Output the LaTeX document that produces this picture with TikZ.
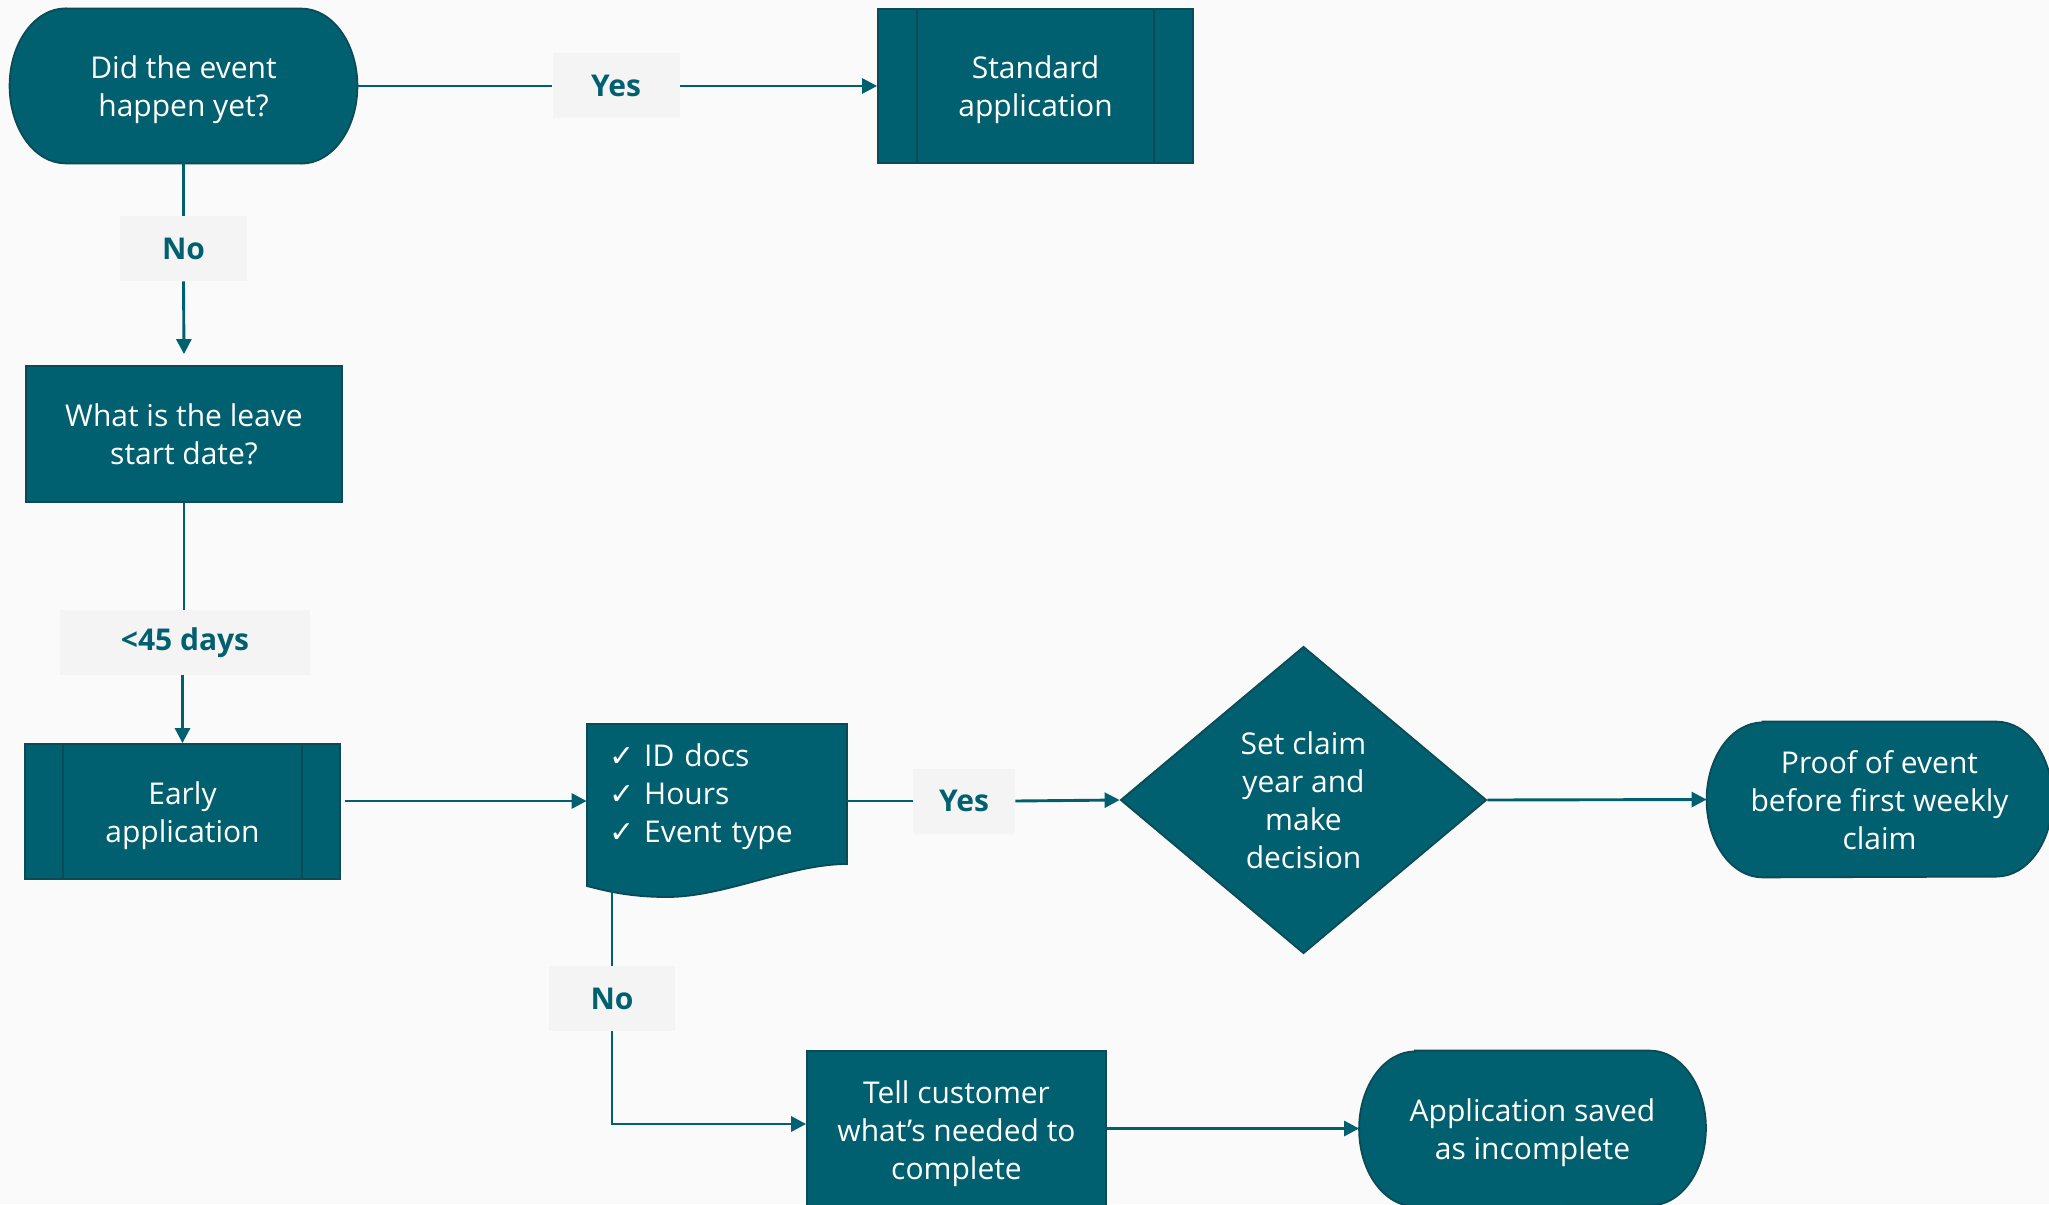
\documentclass[tikz,border=0pt]{standalone}
\usepackage{fontspec}
\setmainfont{Open Sans}
\newfontfamily\symfont{DejaVu Sans}
\usetikzlibrary{arrows.meta,shapes.geometric,backgrounds}
\definecolor{tealf}{HTML}{01606F}
\definecolor{teald}{HTML}{0A4B57}
\definecolor{bgc}{HTML}{FAFAFA}
\definecolor{lblbg}{HTML}{F4F4F4}
\newcommand\tstrut{\rule{0pt}{15.4pt}}
\begin{document}
\begin{tikzpicture}[x=0.5pt,y=-0.5pt,
  shapetext/.style={text=white, font=\fontsize{15}{19}\selectfont, align=center, inner sep=0pt,
    execute at end node={\vphantom{p}}},
  procbox/.style={shapetext, rectangle, fill=tealf, draw=teald, line width=0.9pt},
  termnode/.style={shapetext, rectangle},
  termshape/.style={fill=tealf, draw=teald, line width=0.9pt},
  lbl/.style={fill=lblbg, text=tealf, font=\bfseries\fontsize{15}{19}\selectfont, inner sep=0pt, minimum height=32.5pt},
  conn/.style={draw=tealf, line width=1.45pt},
  arr/.style={conn, -{Triangle[length=7.5pt,width=7.5pt]}},
  sideline/.style={draw=teald, line width=1.2pt}
]
\useasboundingbox (0,0) rectangle (2049,1204);
% ---------- nodes ----------
\node[termnode, minimum width=173.5pt, minimum height=77pt] (t1) at (183.5,86) {\tstrut Did the event\\happen yet?};
\node[procbox, minimum width=157.5pt, minimum height=77pt] (std) at (1035.5,86) {\tstrut Standard\\application};
\node[procbox, minimum width=158pt, minimum height=68pt] (lsd) at (184,434) {\tstrut What is the leave\\start date?};
\node[procbox, minimum width=157.5pt, minimum height=67.5pt] (early) at (182.5,811.5) {\tstrut Early\\application};
\node[shapetext, rectangle, align=left, text width=108pt, inner xsep=11pt, minimum height=66pt] (doc) at (717,797)
  {{\symfont ✓}\ ID docs\\{\symfont ✓}\ Hours\\{\symfont ✓}\ Event type};
\node[shapetext, diamond, fill=tealf, draw=teald, line width=0.9pt, minimum width=183pt, minimum height=153.5pt] (dia) at (1303.5,800)
  {\tstrut Set claim\\year and\\make\\decision};
\node[termnode, minimum width=172.5pt, minimum height=77.5pt] (proof) at (1879.5,799.5) {\tstrut Proof of event\\before first weekly\\claim};
\node[procbox, minimum width=149.5pt, minimum height=79pt] (tell) at (956.5,1130) {\tstrut Tell customer\\what’s needed to\\complete};
\node[termnode, minimum width=173pt, minimum height=77.5pt] (saved) at (1532.5,1128.5) {\tstrut Application saved\\as incomplete};
% labels
\node[lbl, minimum width=63.5pt] (yes1) at (616,86) {Yes};
\node[lbl, minimum width=63.5pt] (no1) at (183.5,248.5) {No};
\node[lbl, minimum width=125pt] (d45) at (185,642.5) {<45 days};
\node[lbl, minimum width=51pt] (yes2) at (964,801) {Yes};
\node[lbl, minimum width=63pt] (no2) at (612,998.5) {No};
\coordinate (docbot) at (612,891);
\coordinate (nobend) at (612,1124);
% ---------- shapes on background ----------
\begin{scope}[on background layer]
  \fill[bgc] (0,0) rectangle (2049,1204);
  \foreach \n in {t1,proof,saved}{
    \path[termshape] ([xshift=28pt]\n.north west) -- ([xshift=-28pt]\n.north east)
      arc[start angle=90, end angle=-90, x radius=28pt, y radius=38.75pt]
      -- ([xshift=28pt]\n.south west)
      arc[start angle=270, end angle=90, x radius=28pt, y radius=38.75pt] -- cycle;
  }
  \path[termshape] (587,724) -- (847,724) -- (847,864)
    .. controls (790,864) and (725,897) .. (667,897)
    .. controls (630,897) and (606,891) .. (587,886) -- cycle;
\end{scope}
% predefined-process side lines
\draw[sideline] ([xshift=20pt]std.north west) -- ([xshift=20pt]std.south west);
\draw[sideline] ([xshift=-20pt]std.north east) -- ([xshift=-20pt]std.south east);
\draw[sideline] ([xshift=19.5pt]early.north west) -- ([xshift=19.5pt]early.south west);
\draw[sideline] ([xshift=-19.5pt]early.north east) -- ([xshift=-19.5pt]early.south east);
% ---------- connectors ----------
\draw[conn] (t1.east) -- (yes1.west);
\draw[arr] (yes1.east) -- (std.west);
\draw[conn] (t1.south) -- (no1.north);
\draw[arr] (no1.south) -- ([yshift=5.5pt]lsd.north);
\draw[conn] (lsd.south) -- (d45.north -| lsd.south);
\draw[arr] (d45.south -| early.north) -- (early.north);
\draw[arr] ([xshift=2pt]early.east |- yes2.west) -- (doc.west |- yes2.west);
\draw[conn] (doc.east |- yes2.west) -- (yes2.west);
\draw[arr] (yes2.east) -- (dia.west);
\draw[arr] (dia.east) -- (proof.west);
\draw[conn] (docbot) -- (no2.north);
\draw[arr] (no2.south) -- (nobend) -- (nobend -| tell.west);
\draw[arr] (tell.east |- saved.west) -- (saved.west);
\end{tikzpicture}
\end{document}
